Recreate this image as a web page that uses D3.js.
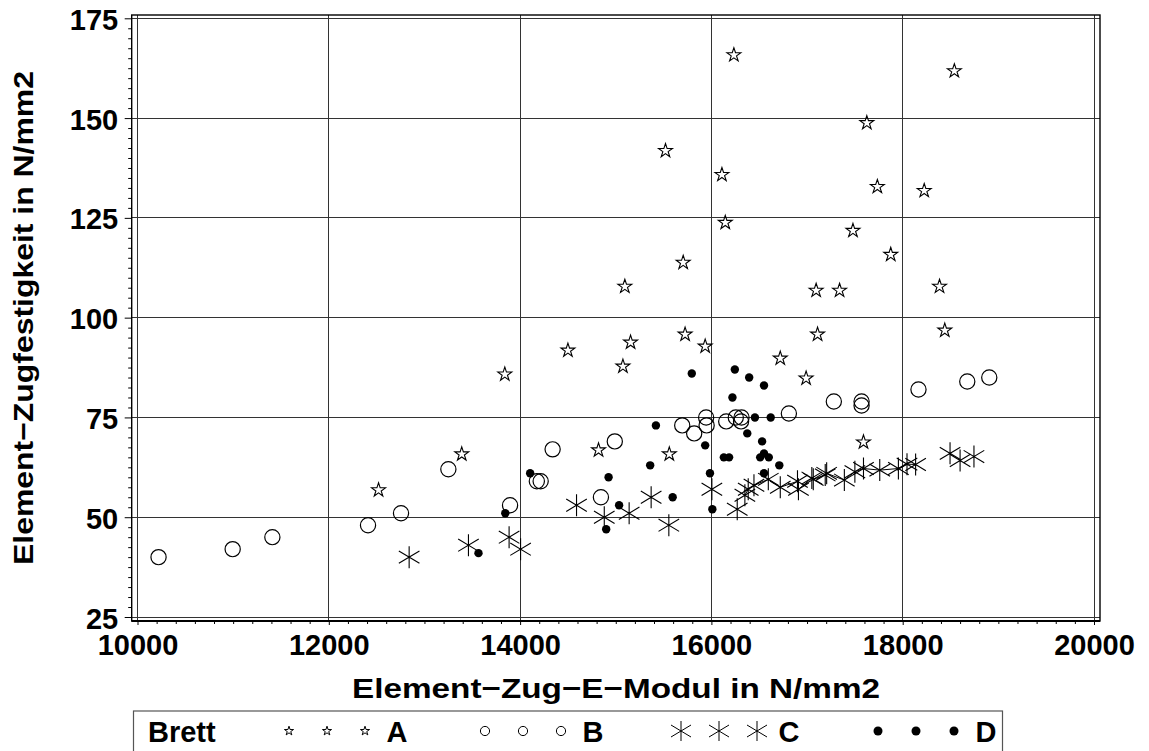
<!DOCTYPE html>
<html><head><meta charset="utf-8">
<script src="https://cdn.jsdelivr.net/npm/d3@7"></script>
<style>
html,body{margin:0;padding:0;background:#fff;}
svg{display:block;}
text{font-family:"Liberation Sans",Arial,Helvetica,sans-serif;font-weight:bold;fill:#000;}
</style></head>
<body>
<svg id="chart" width="1149" height="751"></svg>
<script>
// ---------------- data ----------------
const seriesNames = ["A","B","C","D"];
const legendTitle = "Brett";
const xTitle = "Element\u2212Zug\u2212E\u2212Modul in N/mm2";
const yTitle = "Element\u2212Zugfestigkeit in N/mm2";
const xTicks = [10000,12000,14000,16000,18000,20000];
const yTicks = [25,50,75,100,125,150,175];

const aX = [12520,13390,13840,14500,14820,15075,15095,15155,15520,15560,15705,15725,15935,16110,16145,16235,16720,16990,17095,17110,17340,17480,17590,17625,17735,17875,18225,18385,18440,18540];
const aY = [57,66,86,92,67,88,108,94,142,66,114,96,93,136,124,166,90,85,107,96,107,122,69,149,133,116,132,108,97,162];

const bX = [10220,10995,11410,12410,12755,13250,13895,14175,14215,14340,14845,14990,15695,15820,15945,15950,16155,16255,16315,16310,16810,17280,17570,17570,18165,18675,18905];
const bY = [40,42,45,48,51,62,53,59,59,67,55,69,73,71,75,73,74,75,75,74,76,79,79,78,82,84,85];

const cX = [12840,13460,13885,14005,14590,14880,15140,15370,15555,16005,16270,16350,16385,16445,16595,16720,16900,16910,17050,17065,17190,17205,17390,17500,17590,17760,17955,18045,18135,18495,18600,18745];
const cY = [40,43,45,42,53,50,51,55,48,57,52,55.5,57,58,59.5,57.5,59,57,59.8,59.5,60.6,61,59.3,61.4,62.2,61.8,62.2,63.3,63.2,66,64.2,65.2];

const dX = [13565,13845,14105,14900,14925,15035,15360,15420,15595,15795,15935,15985,16010,16130,16185,16220,16245,16375,16395,16455,16510,16530,16550,16550,16550,16600,16620,16710];
const dY = [41,51,61,47,60,53,63,73,55,86,68,61,52,65,65,80,87,71,85,75,65,69,83,66,61,65,75,63];

// ---------------- layout ----------------
const svg = d3.select("#chart");
const x = d3.scaleLinear().domain([10000,20000]).range([137.5,1094]);
const y = d3.scaleLinear().domain([25,175]).range([617,18.3]);
const frame = {l:131.7, r:1100, t:15, b:621};

const zip = (xs,ys)=>xs.map((v,i)=>({x:v,y:ys[i]}));
const A = zip(aX,aY), B = zip(bX,bY), C = zip(cX,cY), D = zip(dX,dY);

// grid
const grid = svg.append("g").attr("stroke","#333").attr("stroke-width",1).attr("shape-rendering","crispEdges");
grid.selectAll("line.v").data(xTicks).join("line")
  .attr("x1",d=>x(d)).attr("x2",d=>x(d)).attr("y1",frame.t).attr("y2",frame.b);
grid.selectAll("line.h").data(yTicks).join("line")
  .attr("y1",d=>y(d)).attr("y2",d=>y(d)).attr("x1",frame.l).attr("x2",frame.r);

// frame
svg.append("rect").attr("x",frame.l).attr("y",frame.t)
  .attr("width",frame.r-frame.l).attr("height",frame.b-frame.t)
  .attr("fill","none").attr("stroke","#000").attr("stroke-width",1.4);
svg.append("line").attr("x1",frame.l).attr("x2",frame.r).attr("y1",frame.b).attr("y2",frame.b)
  .attr("stroke","#000").attr("stroke-width",2);

// axes
const xMinor = d3.range(10000,20001,200).filter(v=>!xTicks.includes(v));
const yMinor = d3.range(25,175.01,2.5).filter(v=>!yTicks.includes(v));

const yAxis = d3.axisLeft(y).tickValues(yTicks).tickSize(7).tickPadding(6.5).tickFormat(d3.format("d"));
const yg = svg.append("g").attr("transform",`translate(${frame.l},0)`).call(yAxis);
yg.select(".domain").remove();
yg.selectAll("text").attr("font-size",29).attr("font-family","Liberation Sans, Arial, sans-serif").attr("font-weight","bold").attr("dy","0.38em");
const ygm = svg.append("g").attr("transform",`translate(${frame.l},0)`).call(d3.axisLeft(y).tickValues(yMinor).tickSize(3.5).tickFormat(""));
ygm.select(".domain").remove();

const xAxis = d3.axisBottom(x).tickValues(xTicks).tickSize(4).tickPadding(9.5).tickFormat(d3.format("d"));
const xg = svg.append("g").attr("transform",`translate(0,${frame.b})`).call(xAxis);
xg.select(".domain").remove();
xg.selectAll("text").attr("font-size",29).attr("font-family","Liberation Sans, Arial, sans-serif").attr("font-weight","bold");
const xgm = svg.append("g").attr("transform",`translate(0,${frame.b})`).call(d3.axisBottom(x).tickValues(xMinor).tickSize(3).tickFormat(""));
xgm.select(".domain").remove();

// titles
svg.append("text").attr("x",616).attr("y",698).attr("text-anchor","middle")
  .attr("font-size",28).attr("textLength",528).attr("lengthAdjust","spacingAndGlyphs").text(xTitle);
svg.append("text").attr("transform","translate(33,318) rotate(-90)").attr("text-anchor","middle")
  .attr("font-size",28).attr("textLength",494).attr("lengthAdjust","spacingAndGlyphs").text(yTitle);

// symbols
const starPath = r => d3.symbol(d3.symbolStar, r*r/0.8908130915292852)();
function asteriskPath(h, w, dy){
  return `M0,${-h}L0,${h}M${-w},${-dy}L${w},${dy}M${-w},${dy}L${w},${-dy}`;
}
const plot = svg.append("g");

// join line through the dense part of series C
const cJoin = C.filter(d=>d.x>=16300 && d.x<=18200);
plot.append("path").datum(cJoin)
  .attr("d", d3.line().x(d=>x(d.x)).y(d=>y(d.y)))
  .attr("fill","none").attr("stroke","#000").attr("stroke-width",1);

plot.selectAll("circle.b").data(B).join("circle")
  .attr("cx",d=>x(d.x)).attr("cy",d=>y(d.y)).attr("r",7.6)
  .attr("fill","none").attr("stroke","#000").attr("stroke-width",1.2);
plot.selectAll("path.a").data(A).join("path")
  .attr("transform",d=>`translate(${x(d.x)},${y(d.y)+0.8})`)
  .attr("d",starPath(7.3)).attr("fill","none").attr("stroke","#000").attr("stroke-width",1.1);
plot.selectAll("path.c").data(C).join("path")
  .attr("transform",d=>`translate(${x(d.x)},${y(d.y)})`)
  .attr("d",asteriskPath(11,10.3,6.2)).attr("fill","none").attr("stroke","#000").attr("stroke-width",1.1);
plot.selectAll("circle.d").data(D).join("circle")
  .attr("cx",d=>x(d.x)).attr("cy",d=>y(d.y)).attr("r",4.2).attr("fill","#000");

// legend
const lg = svg.append("g");
lg.append("rect").attr("x",133.5).attr("y",711).attr("width",869).attr("height",60)
  .attr("fill","none").attr("stroke","#555").attr("stroke-width",1.2);
lg.append("text").attr("x",148).attr("y",741.5).attr("font-size",29).text(legendTitle);
const labelCenter = [397,593,789,986];
const symOffsets = [-108,-70,-32];
const legY = 731;
seriesNames.forEach((name,i)=>{
  const g = lg.append("g");
  symOffsets.forEach(off=>{
    const cx = labelCenter[i]+off;
    if(i===0) g.append("path").attr("transform",`translate(${cx},${legY})`).attr("d",starPath(4.8)).attr("fill","none").attr("stroke","#000").attr("stroke-width",1);
    if(i===1) g.append("circle").attr("cx",cx).attr("cy",legY).attr("r",4.6).attr("fill","none").attr("stroke","#000").attr("stroke-width",1);
    if(i===2) g.append("path").attr("transform",`translate(${cx},${legY})`).attr("d",asteriskPath(10,10,6)).attr("fill","none").attr("stroke","#000").attr("stroke-width",1);
    if(i===3) g.append("circle").attr("cx",cx).attr("cy",legY).attr("r",4.5).attr("fill","#000");
  });
  g.append("text").attr("x",labelCenter[i]).attr("y",741.5).attr("text-anchor","middle").attr("font-size",29).text(name);
});
</script>
</body></html>
